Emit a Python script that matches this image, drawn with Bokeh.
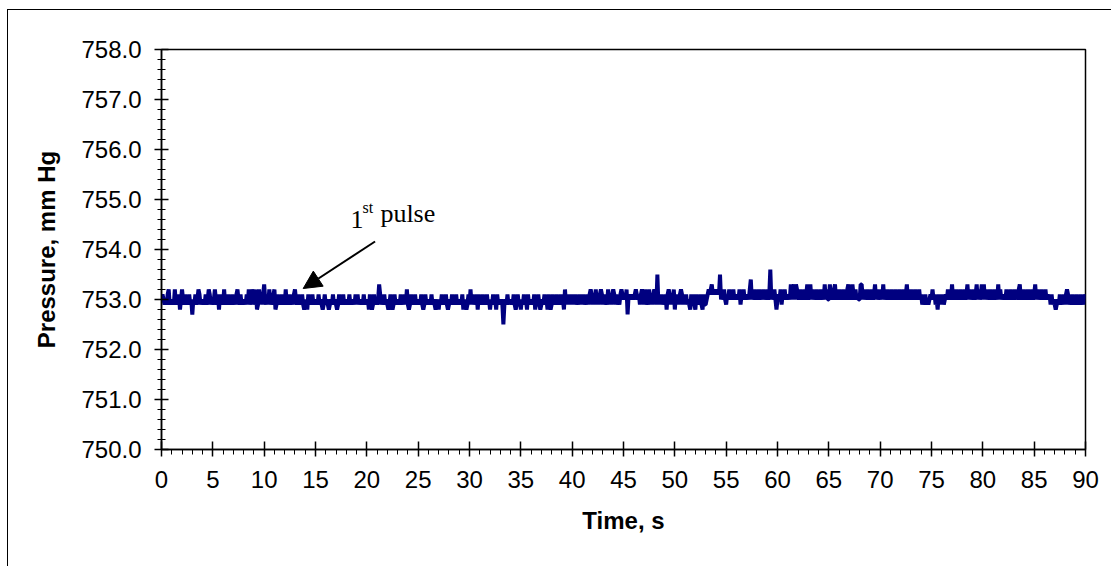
import numpy as np
from bokeh.plotting import figure
from bokeh.models import (Range1d, FixedTicker, PrintfTickFormatter, Arrow, NormalHead,
                          Label, ColumnDataSource)
from bokeh.embed import file_html
from bokeh.resources import INLINE

# Pressure record, one code per 0.1 s sample (code -> mm Hg, see level_map)
level_map = {'5': 752.5, '6': 752.6, '7': 752.7, '8': 752.8, '9': 752.9, '0': 753.0,
             '1': 753.1, '2': 753.2, '3': 753.3, '4': 753.4, 'A': 753.5, 'B': 753.6}
pressure_00_10 = ("0109091290" "9092909180" "2091909190" "7091902190" "9091902190"
                  "9020918190" "9290919091" "9091209190" "9091929021" "9028920191")
pressure_10_20 = ("3091929091" "2891909190" "9290919091" "2091909198" "9081909190"
                  "9091909891" "9098909190" "9891909190" "9091909091" "9190909190")
pressure_20_30 = ("9081989190" "9031909190" "9891989190" "9091909192" "9891909190"
                  "9091989190" "9091909890" "8091909198" "9091909190" "9091809891")
pressure_30_40 = ("9291909181" "9091909190" "8091908190" "9095909190" "9091989190"
                  "8091908190" "9091809198" "9091908198" "9190919091" "9082919191")
pressure_40_50 = ("9191909191" "9190919121" "9192919121" "9190929191" "2191909121"
                  "0102710101" "0121019121" "9290929191" "219A919190" "9181219192")
pressure_50_60 = ("8191912191" "9190981919" "8190919819" "9012123121" "2121A01020"
                  "9102010201" "0102910201" "0102401020" "1020102010" "201B010208")
pressure_60_70 = ("0102910201" "0103023032" "1020102013" "0130201020" "1020103020"
                  "0301023010" "2010201023" "0103102010" "0330201020" "1020130201")
pressure_70_80 = ("0203010201" "0201020102" "0102013010" "2010201020" "1909190901"
                  "0201908191" "9190102010" "3010201020" "1020130201" "0201302013")
pressure_80_90 = ("0302010201" "0201030201" "0102010201" "0201023010" "2010201020"
                  "1302010201" "0201019190" "9890919091" "9121909190" "9190919091" "0")
sample_interval = 0.1  # s

codes = (pressure_00_10 + pressure_10_20 + pressure_20_30 + pressure_30_40 + pressure_40_50
         + pressure_50_60 + pressure_60_70 + pressure_70_80 + pressure_80_90)
pressure = [level_map[c] for c in codes]
time = [i * sample_interval for i in range(len(pressure))]

x_ticks = list(range(0, 91, 5))
x_minor = list(range(0, 91, 1))
y_ticks = [750, 751, 752, 753, 754, 755, 756, 757, 758]
y_minor = [round(750 + 0.2 * i, 1) for i in range(41)]

annot_text_xy = (18.4, 754.44)
annot_sup_xy = (19.57, 754.68)
annot_word_xy = (21.32, 754.44)
arrow_from = (20.8, 754.16)
arrow_to = (13.8, 753.22)

# the outer chart border sits at x=7, y=9 of the page (1px wide)
p = figure(width=1112 - 8, height=567 - 10, output_backend="svg", toolbar_location=None,
           x_range=Range1d(0, 90), y_range=Range1d(750, 758))
p.styles = {"border-top": "1px solid black", "border-left": "1px solid black",
            "margin-left": "7px", "margin-top": "9px"}
p.min_border_left = 161 - 8
p.min_border_right = 27
p.min_border_top = 49 - 10
p.min_border_bottom = 118
p.background_fill_color = "white"
p.border_fill_color = "white"
p.outline_line_color = "black"
p.outline_line_width = 1.5
p.xgrid.visible = False
p.ygrid.visible = False

src = ColumnDataSource(dict(t=time, p=pressure))
p.line("t", "p", source=src, line_color="#000080", line_width=4, line_join="bevel")

font = "Liberation Sans"
for ax in (p.xaxis[0], p.yaxis[0]):
    ax.axis_line_color = "black"
    ax.axis_line_width = 1.5
    ax.major_tick_line_color = "black"
    ax.minor_tick_line_color = "black"
    ax.major_tick_line_width = 1.5
    ax.minor_tick_line_width = 1
    ax.major_label_text_font = font
    ax.major_label_text_font_size = "24px"
    ax.major_label_text_color = "black"
    ax.axis_label_text_font = font
    ax.axis_label_text_font_style = "bold"
    ax.axis_label_text_font_size = "24px"
    ax.axis_label_text_color = "black"

xa = p.xaxis[0]
xa.ticker = FixedTicker(ticks=x_ticks, minor_ticks=x_minor)
xa.major_tick_in = 8
xa.major_tick_out = 7
xa.minor_tick_in = 0
xa.minor_tick_out = 5
xa.major_label_standoff = 14
xa.axis_label = "Time, s"
xa.axis_label_standoff = 16

ya = p.yaxis[0]
ya.ticker = FixedTicker(ticks=y_ticks, minor_ticks=y_minor)
ya.formatter = PrintfTickFormatter(format="%.1f")
ya.major_tick_in = 7
ya.major_tick_out = 7
ya.minor_tick_in = 4
ya.minor_tick_out = 4
ya.major_label_standoff = 13
ya.axis_label = "Pressure, mm Hg"
ya.axis_label_standoff = 18

serif = "Liberation Serif"
p.add_layout(Label(x=annot_text_xy[0], y=annot_text_xy[1], text="1", text_font=serif,
                   text_font_size="26px", text_color="black"))
p.add_layout(Label(x=annot_sup_xy[0], y=annot_sup_xy[1], text="st", text_font=serif,
                   text_font_size="16px", text_color="black"))
p.add_layout(Label(x=annot_word_xy[0], y=annot_word_xy[1], text="pulse", text_font=serif,
                   text_font_size="26px", text_color="black"))
p.add_layout(Arrow(end=NormalHead(size=18, fill_color="black", line_color="black"),
                   x_start=arrow_from[0], y_start=arrow_from[1],
                   x_end=arrow_to[0], y_end=arrow_to[1],
                   line_color="black", line_width=2))

open("out.html", "w").write(file_html(p, INLINE))
